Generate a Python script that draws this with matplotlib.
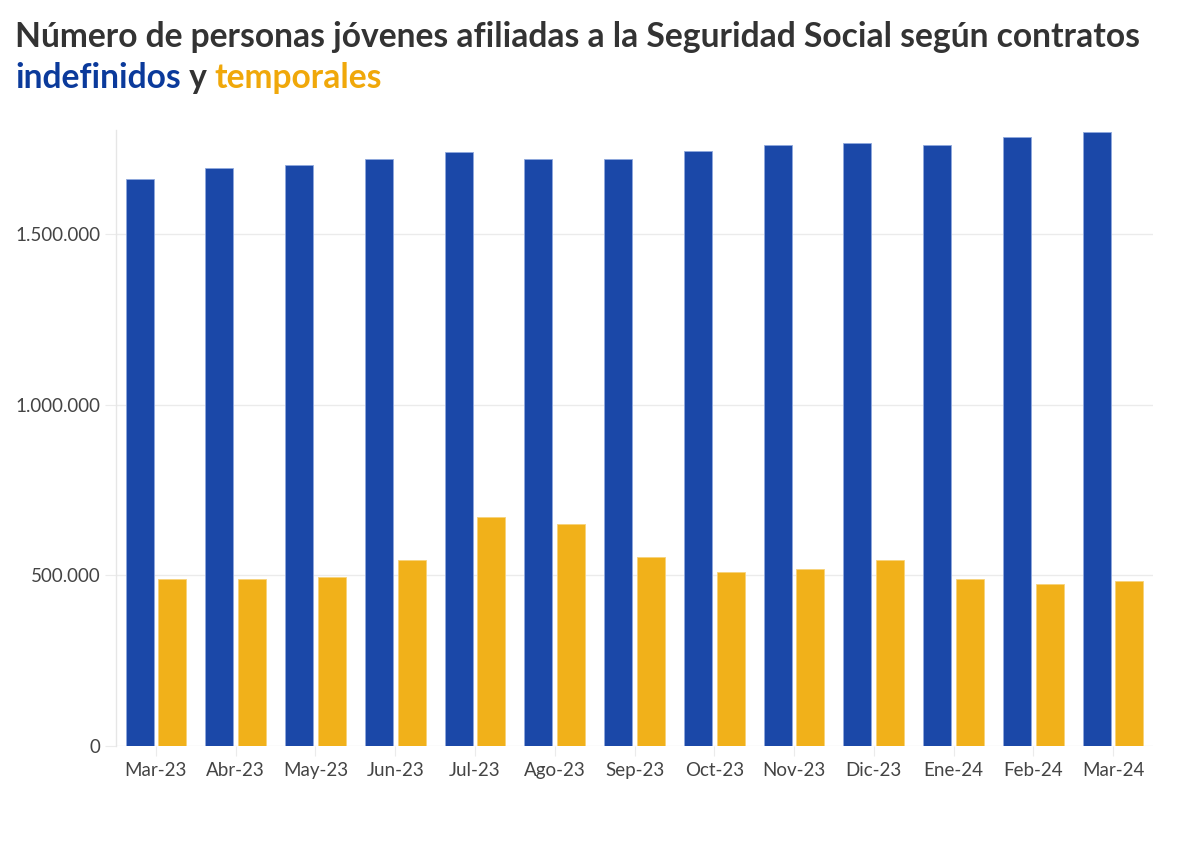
import matplotlib
matplotlib.use("Agg")
import matplotlib.pyplot as plt
import numpy as np

months = ["Mar-23", "Abr-23", "May-23", "Jun-23", "Jul-23", "Ago-23", "Sep-23",
          "Oct-23", "Nov-23", "Dic-23", "Ene-24", "Feb-24", "Mar-24"]
indefinidos = [1662000, 1694000, 1703000, 1721500, 1742000, 1720700, 1720700,
               1744000, 1761700, 1769400, 1763500, 1785200, 1801600]
temporales = [488300, 488300, 495000, 545800, 671000, 650500, 552800,
              509700, 519400, 545000, 488300, 474500, 484200]
yticks = [0, 500000, 1000000, 1500000]
ytick_labels = ["0", "500.000", "1.000.000", "1.500.000"]

BLUE = "#1b48a8"
YELLOW = "#f1b11a"
TITLE_BLUE = "#0b3a9b"
TITLE_YELLOW = "#f0a80a"
DARK = "#333333"

plt.rcParams['font.family'] = ['Lato', 'DejaVu Sans']

fig = plt.figure(figsize=(12, 8.67), dpi=100)
ax = fig.add_axes([0.0967, 0.1399, 0.8641, 0.7101])

x = np.arange(len(months))
w = 0.35
gap = 0.03
ax.bar(x - w / 2 - gap, indefinidos, width=w, color=BLUE, edgecolor="#8fa8dd",
       linewidth=0.6, zorder=3)
ax.bar(x + w / 2 + gap, temporales, width=w, color=YELLOW, edgecolor="#f7d37a",
       linewidth=0.6, zorder=3)

ax.set_xlim(-0.5, len(months) - 0.5)
ax.set_ylim(0, 1806000)
ax.set_xticks(x)
ax.set_xticklabels(months, fontsize=13.5, color="#444444")
ax.set_yticks(yticks)
ax.set_yticklabels(ytick_labels, fontsize=13.5, color="#444444")
ax.yaxis.grid(True, color="#ebebeb", linewidth=1, zorder=0)
ax.tick_params(axis="y", length=8, color="#ebebeb", pad=3)
ax.tick_params(axis="x", length=7, color="#ebebeb", pad=5)
for s in ["top", "right", "bottom"]:
    ax.spines[s].set_visible(False)
ax.spines["left"].set_color("#e6e6e6")
ax.spines["left"].set_linewidth(1)

# Title
TFS = 24.2
fig.text(15 / 1200, 1 - 37 / 867,
         "Número de personas jóvenes afiliadas a la Seguridad Social según contratos",
         fontsize=TFS, fontweight="bold", color=DARK, va="center", ha="left")

fig.canvas.draw()
renderer = fig.canvas.get_renderer()
xpos = 15 / 1200
ypos = 1 - 78 / 867
parts = [("indefinidos", TITLE_BLUE), (" y ", DARK), ("temporales", TITLE_YELLOW)]
for txt, col in parts:
    t = fig.text(xpos, ypos, txt, fontsize=TFS, fontweight="bold", color=col,
                 va="center", ha="left")
    bb = t.get_window_extent(renderer=renderer)
    xpos += bb.width / fig.bbox.width

fig.savefig("out.png", dpi=100, facecolor="white")
